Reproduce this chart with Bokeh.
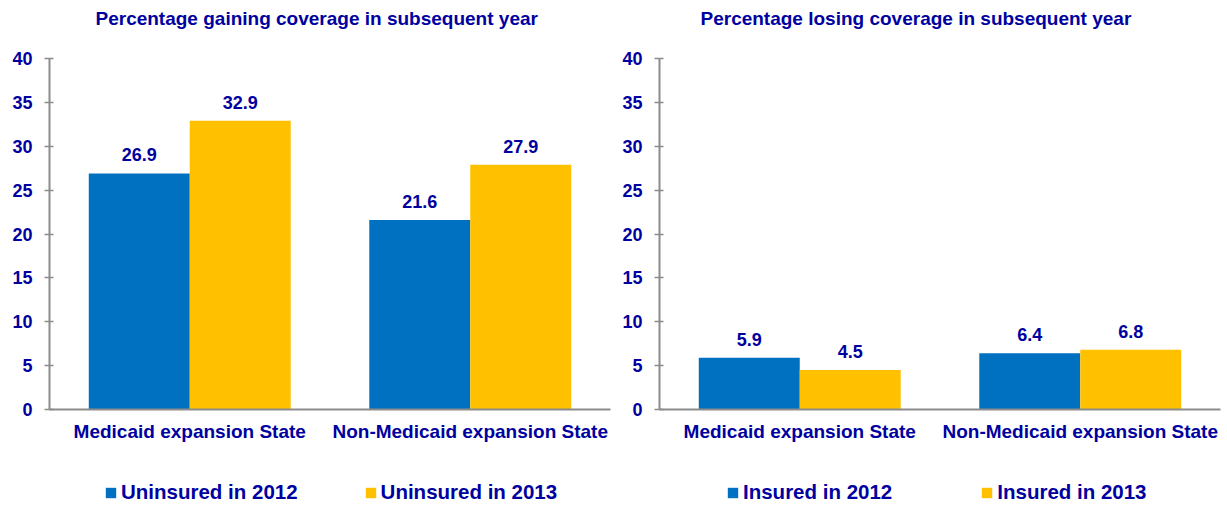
from bokeh.plotting import figure
from bokeh.models import FactorRange, Legend, LegendItem, ColumnDataSource, Title
from bokeh.transform import dodge
from bokeh.layouts import row, column
from bokeh.embed import file_html
from bokeh.resources import INLINE
from bokeh.core.properties import value

categories = ["Medicaid expansion State", "Non-Medicaid expansion State"]
gain_2012 = [26.9, 21.6]
gain_2013 = [32.9, 27.9]
lose_2012 = [5.9, 6.4]
lose_2013 = [4.5, 6.8]
yticks = [0, 5, 10, 15, 20, 25, 30, 35, 40]

BLUE = "#0070C0"
GOLD = "#FFC000"
TXT = "#0000A0"
FONT = "Liberation Sans"


def make(title, v1, v2, lab1, lab2, width, bl, br, title_offset, leg_x, leg_spacing):
    src = ColumnDataSource(dict(cat=categories, a=v1, b=v2,
                                at=[f"{v:.1f}" for v in v1], bt=[f"{v:.1f}" for v in v2]))
    p = figure(x_range=FactorRange(*categories), y_range=(0, 40), width=width, height=460,
               output_backend="svg", toolbar_location=None,
               min_border_left=bl, min_border_right=br, min_border_top=0, min_border_bottom=51)
    spacer = Title(text=" ", text_font_size="10px", standoff=11)
    main = Title(text=title, align="left", offset=title_offset, text_font=FONT,
                 text_font_size="19px", text_font_style="bold", text_color=TXT, standoff=11)
    p.add_layout(spacer, "above")
    p.add_layout(main, "above")
    p.vbar(x=dodge("cat", -0.18, range=p.x_range), top="a", width=0.36, source=src,
           fill_color=BLUE, line_color=None)
    p.vbar(x=dodge("cat", 0.18, range=p.x_range), top="b", width=0.36, source=src,
           fill_color=GOLD, line_color=None)
    for col, off in (("at", -0.18), ("bt", 0.18)):
        p.text(x=dodge("cat", off, range=p.x_range), y=col[0], text=col, source=src,
               text_align="center", text_baseline="bottom", y_offset=-12,
               text_font=value(FONT), text_font_size="18px", text_font_style="bold",
               text_color=TXT)
    p.xgrid.visible = False
    p.ygrid.visible = False
    p.outline_line_color = None
    p.yaxis.ticker = yticks
    for ax in (p.xaxis[0], p.yaxis[0]):
        ax.axis_line_color = "#8C8C8C"
        ax.axis_line_width = 2
        ax.major_label_text_font = FONT
        ax.major_label_text_font_style = "bold"
        ax.major_label_text_color = TXT
        ax.minor_tick_line_color = None
    p.yaxis.major_tick_line_color = "#8C8C8C"
    p.yaxis.major_tick_line_width = 1.5
    p.yaxis.major_tick_in = 4
    p.yaxis.major_tick_out = 5
    p.yaxis.major_label_text_font_size = "18px"
    p.yaxis.major_label_standoff = 12
    p.xaxis.major_tick_line_color = None
    p.xaxis.major_label_text_font_size = "19px"
    p.xaxis.major_label_standoff = 5

    # legend strip below the chart (its frame is aligned with the chart's frame)
    lg = figure(width=width, height=46, x_range=(0, 1), y_range=(0, 1), output_backend="svg",
                toolbar_location=None, x_axis_location=None, y_axis_location=None,
                min_border=0, min_border_left=bl, min_border_right=br, min_border_top=0,
                min_border_bottom=0)
    lg.xgrid.visible = False
    lg.ygrid.visible = False
    lg.outline_line_color = None
    g1 = lg.vbar(x="a", top="a", width=0.1, source=src, fill_color=BLUE, line_color=None, visible=False)
    g2 = lg.vbar(x="b", top="b", width=0.1, source=src, fill_color=GOLD, line_color=None, visible=False)
    legend = Legend(items=[LegendItem(label=lab1, renderers=[g1], index=0),
                           LegendItem(label=lab2, renderers=[g2], index=0)],
                    orientation="horizontal", location=(leg_x, 2),
                    glyph_width=13, glyph_height=13, label_standoff=4, spacing=leg_spacing,
                    label_text_font=FONT, label_text_font_size="20.5px", label_text_font_style="bold",
                    label_text_color=TXT, border_line_color=None, background_fill_alpha=0,
                    inactive_fill_alpha=0, margin=0, padding=0)
    lg.add_layout(legend)
    return column(p, lg, spacing=0)


c1 = make("Percentage gaining coverage in subsequent year", gain_2012, gain_2013,
          "Uninsured in 2012", "Uninsured in 2013", 613, 49, 3, 46, 55, 66)
c2 = make("Percentage losing coverage in subsequent year", lose_2012, lose_2013,
          "Insured in 2012", "Insured in 2013", 614, 46, 7, 41, 67, 88)

page = row(c1, c2, spacing=0)
open("out.html", "w").write(file_html(page, INLINE))
